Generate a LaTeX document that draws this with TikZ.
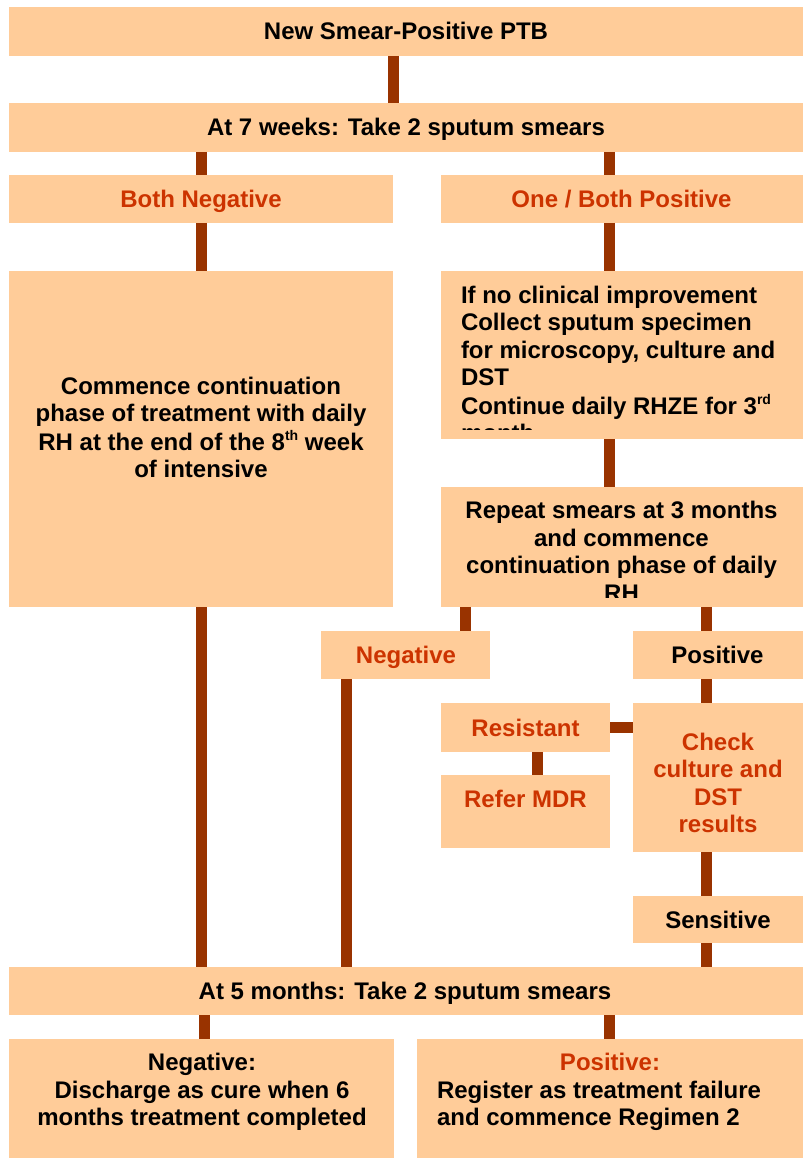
\documentclass[tikz,border=0pt]{standalone}
\usepackage{fontspec}
\setmainfont{Liberation Sans}
\definecolor{boxfill}{HTML}{FFCC99}
\definecolor{linkbrown}{HTML}{993300}
\definecolor{alertred}{HTML}{CC3300}
\newcommand\ordsup[1]{\raisebox{0.42em}{\fontsize{14}{14}\selectfont #1}}
\newcommand\lines[2]{\begin{tabular}[t]{@{}#1@{}}#2\end{tabular}}

\tikzset{
  box/.style={rectangle, fill=boxfill, draw=none, inner sep=0pt, outer sep=0pt},
  conn/.style={draw=linkbrown, line width=11pt},
  lbl/.style={font=\fontsize{24}{27.6}\selectfont\bfseries, inner sep=0pt, outer sep=0pt, anchor=base},
  alert/.style={text=alertred}
}

\begin{document}
\begin{tikzpicture}[x=1pt,y=-1pt]
\useasboundingbox (0,0) rectangle (803,1158);

% column positions of the vertical links
\coordinate (cA) at (393.5,0);
\coordinate (cB) at (201.5,0);
\coordinate (cC) at (609.5,0);
\coordinate (cD) at (465.5,0);
\coordinate (cE) at (706,0);
\coordinate (cF) at (537.5,0);
\coordinate (cG) at (346,0);
\coordinate (cH) at (204.5,0);

% boxes
\node[box, minimum width=794pt, minimum height=49pt] (top) at (406,31.5) {};
\node[box, minimum width=794pt, minimum height=49pt] (weeks7) at (406,127.5) {};
\node[box, minimum width=384pt, minimum height=48pt] (bothneg) at (201,199) {};
\node[box, minimum width=362pt, minimum height=48pt] (onepos) at (622,199) {};
\node[box, minimum width=384pt, minimum height=336pt] (commence) at (201,439) {};
\node[box, minimum width=362pt, minimum height=168pt] (noimprove) at (622,355) {};
\node[box, minimum width=362pt, minimum height=120pt] (repeat) at (622,547) {};
\node[box, minimum width=169pt, minimum height=48pt] (neg) at (405.5,655) {};
\node[box, minimum width=170pt, minimum height=48pt] (pos) at (718,655) {};
\node[box, minimum width=169pt, minimum height=49pt] (resistant) at (525.5,727.5) {};
\node[box, minimum width=170pt, minimum height=149pt] (check) at (718,777.5) {};
\node[box, minimum width=169pt, minimum height=73pt] (refer) at (525.5,811.5) {};
\node[box, minimum width=170pt, minimum height=47pt] (sensitive) at (718,919.5) {};
\node[box, minimum width=794pt, minimum height=48pt] (months5) at (406,991) {};
\node[box, minimum width=385pt, minimum height=122pt] (negfinal) at (201.5,1100) {};
\node[box, minimum width=386pt, minimum height=122pt] (posfinal) at (610,1100) {};

% links
\draw[conn] (top.south -| cA) -- (weeks7.north -| cA);
\draw[conn] (weeks7.south -| cB) -- (bothneg.north -| cB);
\draw[conn] (weeks7.south -| cC) -- (onepos.north -| cC);
\draw[conn] (bothneg.south -| cB) -- (commence.north -| cB);
\draw[conn] (onepos.south -| cC) -- (noimprove.north -| cC);
\draw[conn] (noimprove.south -| cC) -- (repeat.north -| cC);
\draw[conn] (repeat.south -| cD) -- (neg.north -| cD);
\draw[conn] (repeat.south -| cE) -- (pos.north -| cE);
\draw[conn] (pos.south -| cE) -- (check.north -| cE);
\draw[conn] (resistant.east) -- (check.west |- resistant.east);
\draw[conn] (resistant.south -| cF) -- (refer.north -| cF);
\draw[conn] (check.south -| cE) -- (sensitive.north -| cE);
\draw[conn] (sensitive.south -| cE) -- (months5.north -| cE);
\draw[conn] (commence.south -| cB) -- (months5.north -| cB);
\draw[conn] (neg.south -| cG) -- (months5.north -| cG);
\draw[conn] (months5.south -| cH) -- (negfinal.north -| cH);
\draw[conn] (months5.south -| cC) -- (posfinal.north -| cC);

% labels
\node[lbl] (ttop) at (406,40) {New Smear-Positive PTB};
\node[lbl] (tweeks7) at (406,136) {At 7 weeks: Take 2 sputum smears};
\node[lbl, alert] (tbothneg) at (201,207.5) {Both Negative};
\node[lbl, alert] (tonepos) at (621.5,207.5) {One / Both Positive};
\node[lbl] (tcommence) at (201,394) {\lines{c}{Commence continuation\\
  phase of treatment with daily\\
  RH at the end of the 8\ordsup{th} week\\
  of intensive}};
\begin{scope}
  \clip (noimprove.north west) rectangle ([yshift=10pt]noimprove.south east);
  \node[lbl, anchor=base west] (tnoimprove) at (461,303) {\lines{l}{If no clinical improvement\\
    Collect sputum specimen\\
    for microscopy, culture and\\
    DST\\
    Continue daily RHZE for 3\ordsup{rd}\\
    month}};
\end{scope}
\begin{scope}
  \clip (repeat.north west) rectangle ([yshift=10pt]repeat.south east);
  \node[lbl] (trepeat) at (621.5,518.6) {\lines{c}{Repeat smears at 3 months\\
    and commence\\
    continuation phase of daily\\
    RH}};
\end{scope}
\node[lbl, alert] (tneg) at (406,663.5) {Negative};
\node[lbl] (tpos) at (717.5,663.5) {Positive};
\node[lbl, alert] (tresistant) at (525.5,736) {Resistant};
\node[lbl, alert] (tcheck) at (718,750) {\lines{c}{Check\\ culture and\\ DST\\ results}};
\node[lbl, alert] (trefer) at (525.5,807.5) {Refer MDR};
\node[lbl] (tsensitive) at (718,928) {Sensitive};
\node[lbl] (tmonths5) at (405,999.5) {At 5 months: Take 2 sputum smears};
\node[lbl] (tnegfinal) at (202,1070.5) {\lines{c}{Negative:\\
  Discharge as cure when 6\\
  months treatment completed}};
\node[lbl, alert] (tposhead) at (610,1070.5) {Positive:};
\node[lbl, anchor=base west] (tposfinal) at (437,1098.1) {\lines{l}{Register as treatment failure\\
  and commence Regimen 2}};
\end{tikzpicture}
\end{document}
